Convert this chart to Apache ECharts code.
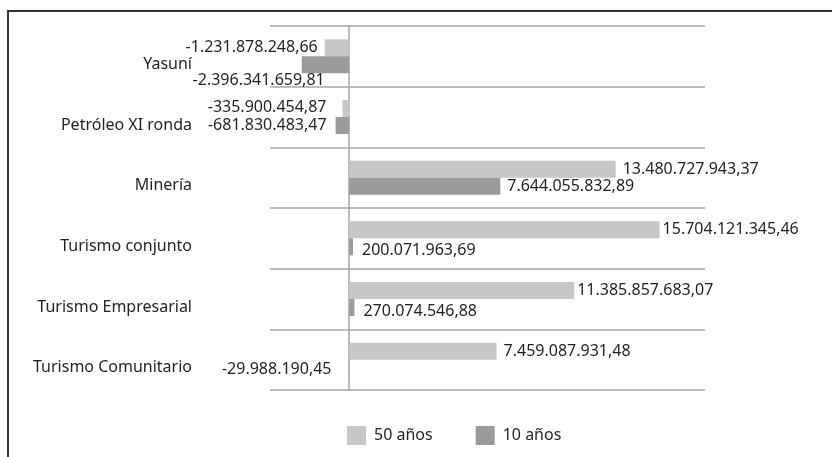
<!DOCTYPE html>
<html>
<head>
<meta charset="utf-8">
<script src="https://cdn.jsdelivr.net/npm/echarts@6/dist/echarts.min.js"></script>
<style>
  html, body { margin: 0; padding: 0; background: #fff; }
  #chart { width: 832px; height: 457px; }
  /* marco del gráfico, abierto por la derecha y por abajo */
  #frame {
    position: absolute; left: 7px; top: 10px; width: 900px; height: 500px;
    border-left: 2px solid #333; border-top: 2px solid #333;
    pointer-events: none;
  }
</style>
</head>
<body>
<div id="chart"></div>
<div id="frame"></div>
<script>
const categories = ['Yasuní', 'Petróleo XI ronda', 'Minería', 'Turismo conjunto', 'Turismo Empresarial', 'Turismo Comunitario']
const seriesNames = ['50 años', '10 años']
const values50 = [-1231878248.66, -335900454.87, 13480727943.37, 15704121345.46, 11385857683.07, 7459087931.48]
const values10 = [-2396341659.81, -681830483.47, 7644055832.89, 200071963.69, 270074546.88, -29988190.45]

// desplazamientos de las etiquetas (como quedan en el original)
const labelOffset50 = [[0, 0], [-9, -1], [0, 0], [-4, 0], [-4, 0], [0, 0]]
const labelOffset10 = [[30, 16], [-2, 0], [0, 0], [2, 4], [2, 4], [-10, 1]]

const textColor = '#231f20'
const lineColor = '#a6a6a6'

function fmt (v) {
  const neg = v < 0
  let [i, d] = Math.abs(v).toFixed(2).split('.')
  i = i.replace(/\B(?=(\d{3})+(?!\d))/g, '.')
  return (neg ? '-' : '') + i + ',' + d
}

function buildData (values, offsets) {
  return values.map((v, i) => ({
    value: v,
    label: { position: v < 0 ? 'left' : 'right', offset: offsets[i] }
  }))
}

const chart = echarts.init(document.getElementById('chart'))

const barLabel = {
  show: true,
  distance: 7,
  fontSize: 16,
  color: textColor,
  formatter: p => fmt(p.value)
}

chart.setOption({
  animation: false,
  textStyle: { fontFamily: 'Noto Sans' },
  grid: { left: 270, right: 127, top: 26, bottom: 67, containLabel: false, outerBoundsMode: 'none' },
  legend: {
    left: 347,
    top: 426,
    padding: 0,
    icon: 'rect',
    itemWidth: 19,
    itemHeight: 19,
    itemGap: 43,
    data: seriesNames,
    textStyle: { fontSize: 16, color: textColor, padding: [0, 0, 0, 3] }
  },
  xAxis: {
    type: 'value',
    min: -4e9,
    max: 18e9,
    axisLine: { show: false },
    axisTick: { show: false },
    axisLabel: { show: false },
    splitLine: { show: false }
  },
  yAxis: {
    type: 'category',
    data: categories,
    inverse: true,
    axisLine: { onZero: true, lineStyle: { color: lineColor, width: 1.5 } },
    axisTick: { show: false },
    splitLine: { show: true, lineStyle: { color: lineColor, width: 1.5 } },
    axisLabel: { margin: 78, fontSize: 16, color: textColor, verticalAlign: 'top', lineHeight: 16 }
  },
  series: [
    {
      name: seriesNames[0],
      type: 'bar',
      barWidth: 17,
      barGap: '0%',
      itemStyle: { color: '#c7c7c7' },
      label: barLabel,
      data: buildData(values50, labelOffset50)
    },
    {
      name: seriesNames[1],
      type: 'bar',
      barWidth: 17,
      barGap: '0%',
      itemStyle: { color: '#9b9b9d' },
      label: barLabel,
      data: buildData(values10, labelOffset10)
    }
  ]
})
</script>
</body>
</html>
